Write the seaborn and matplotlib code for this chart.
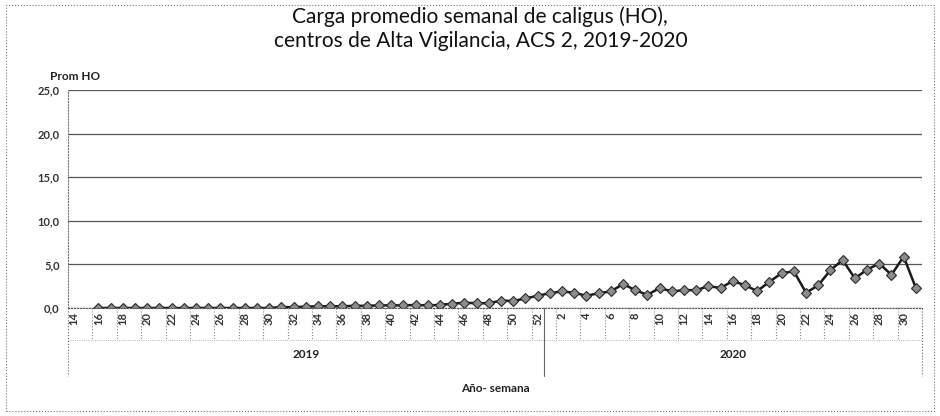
import numpy as np
import pandas as pd
import seaborn as sns
import matplotlib.pyplot as plt
from matplotlib.patches import Rectangle
import matplotlib.transforms as mtransforms

# weekly data
weeks_2019 = list(range(14, 53))
ho_2019 = [np.nan, np.nan, 0.0, 0.0, 0.0, 0.0, 0.0, 0.0, 0.0, 0.0, 0.0, 0.0,
           0.0, 0.0, 0.0, 0.0, 0.0, 0.1, 0.1, 0.15, 0.2, 0.2, 0.2, 0.25, 0.25,
           0.3, 0.3, 0.3, 0.35, 0.3, 0.35, 0.5, 0.6, 0.55, 0.55, 0.85, 0.8,
           1.1, 1.4]
weeks_2020 = list(range(1, 32))
ho_2020 = [1.7, 1.9, 1.75, 1.4, 1.7, 1.9, 2.75, 2.05, 1.5, 2.3, 1.9, 2.05,
           2.05, 2.5, 2.3, 3.1, 2.6, 1.95, 3.0, 4.0, 4.2, 1.75, 2.6, 4.35,
           5.5, 3.4, 4.4, 5.1, 3.8, 5.9, 2.3]
years = ["2019", "2020"]

df = pd.DataFrame({
    "year": ["2019"] * len(weeks_2019) + ["2020"] * len(weeks_2020),
    "week": weeks_2019 + weeks_2020,
    "ho": ho_2019 + ho_2020,
})
df["pos"] = range(len(df))

sns.set_style("white")
plt.rcParams["font.family"] = ["Lato", "DejaVu Sans"]

fig = plt.figure(figsize=(9.4, 4.16), dpi=100)
ax = fig.add_axes([0.0723, 0.2596, 0.9085, 0.5241])

sns.lineplot(data=df, x="pos", y="ho", ax=ax, color="#1a1a1a", lw=1.8,
             marker="D", markersize=5, markerfacecolor="#8c8c8c",
             markeredgecolor="#2a2a2a", markeredgewidth=0.8)

n = len(df)
ax.set_xlim(-0.5, n - 0.5)
ax.set_ylim(0, 25)
ax.set_yticks(np.arange(0, 26, 5))
ax.set_yticklabels([f"{v:.1f}".replace(".", ",") for v in np.arange(0, 26, 5)],
                   fontsize=8, fontweight="bold", color="#333333")
ax.grid(axis="y", color="#555555", lw=0.9)
ax.set_axisbelow(True)

# week tick labels every second week
lab_pos = df["pos"][::2]
ax.set_xticks(lab_pos)
ax.set_xticklabels([str(w) for w in df["week"][::2]], rotation=90,
                   fontsize=8, fontweight="bold", color="#333333")
ax.tick_params(axis="x", length=0, pad=3)
ax.tick_params(axis="y", length=0, pad=6)
ax.set_xlabel("")
ax.set_ylabel("")

for s in ["top", "right"]:
    ax.spines[s].set_visible(False)
ax.spines["left"].set_color("#777777")
ax.spines["left"].set_linestyle(":")
ax.spines["bottom"].set_color("#555555")
ax.spines["bottom"].set_linestyle(":")

# separators between label cells and the year row
trans = mtransforms.blended_transform_factory(ax.transData, ax.transAxes)
for p in np.arange(1.5, n - 1, 2):
    ax.plot([p, p], [0, -0.145], transform=trans, color="#888888", lw=0.8,
            ls=":", clip_on=False)
ax.plot([-0.5, n - 0.5], [-0.145, -0.145], transform=trans, color="#999999",
        lw=0.6, ls=":", clip_on=False)
n19 = len(weeks_2019)
for p in [-0.5, n19 - 0.5, n - 0.5]:
    ax.plot([p, p], [0, -0.31], transform=trans, color="#666666", lw=0.8,
            ls=":" if p != n19 - 0.5 else "-", clip_on=False)
centers = [(n19 - 1) / 2, n19 + (len(weeks_2020) - 1) / 2]
for c, y in zip(centers, years):
    ax.text(c, -0.215, y, transform=trans, ha="center", va="center",
            fontsize=8.5, fontweight="bold", color="#222222")

ax.text(0.5, -0.37, "Año- semana", transform=ax.transAxes, ha="center",
        va="center", fontsize=8.5, fontweight="bold", color="#222222")
fig.text(0.053, 0.815, "Prom HO", ha="left", va="center", fontsize=8.5,
         fontweight="bold", color="#222222")
fig.text(0.511, 0.932, "Carga promedio semanal de caligus (HO),\n"
         "centros de Alta Vigilancia, ACS 2, 2019-2020",
         ha="center", va="center", fontsize=15, color="#111111",
         linespacing=1.25)

fig.patches.append(Rectangle((0.006, 0.012), 0.988, 0.976,
                             transform=fig.transFigure, fill=False,
                             ec="#777777", lw=0.8, ls=":"))

fig.savefig("out.png", dpi=100)
